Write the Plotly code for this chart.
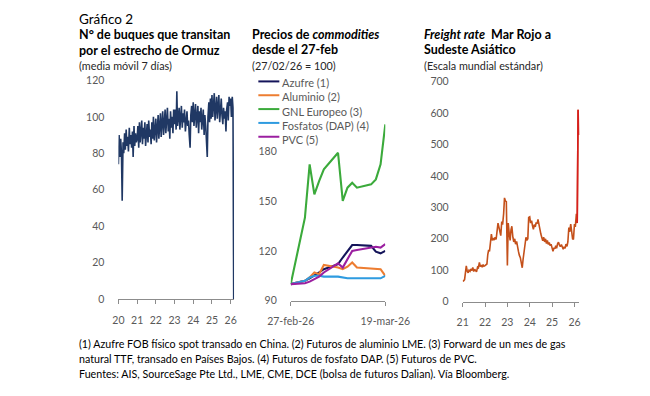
import pandas as pd
import plotly.graph_objects as go

# figure fits inside the page's 8px body margin; the photographed picture maps page
# coordinates as  pic_x = SX*page_x + BX,  pic_y = SY*page_y + BY  (measured)
OX, OY = 8, 8
W, H = 650 - 2 * OX, 396 - 2 * OY
SX, BX = 0.923, 24.5
SY, BY = 0.9625, 7.0
FONT = "Lato"

# ---------------- data ----------------
# Panel 1: ships through Hormuz (7-day MA), semi-monthly readings 2020-01-01 .. 2026-03-01
ships = [
    74, 90, 78, 88, 80, 54, 86, 80, 91, 82, 93, 84, 89, 81, 94, 85, 90, 83, 92, 78, 95, 84, 91, 86,
    88, 95, 83, 97, 86, 92, 98, 85, 94, 88, 97, 84, 91, 96, 86, 98, 89, 93, 85, 97, 88, 100, 87, 95,
    99, 86, 94, 101, 88, 97, 102, 89, 95, 103, 90, 98, 104, 91, 97, 105, 92, 99, 88, 103, 94, 100, 91, 104,
    96, 104, 93, 114, 95, 101, 105, 93, 100, 106, 94, 102, 97, 104, 92, 99, 103, 95, 98, 90, 83, 101, 106, 97,
    108, 95, 102, 107, 94, 100, 106, 91, 103, 97, 105, 93, 99, 104, 90, 101, 95, 88, 78, 100, 108, 97, 110, 99,
    112, 100, 106, 113, 98, 108, 111, 99, 104, 112, 97, 107, 110, 101, 96, 105, 99, 103, 92, 104, 108, 98, 111, 106,
    110, 100, 111, 105, 0,
]
ships_start = "2020-01-01"

# Panel 2: commodity prices indexed 27/02/26 = 100
cmd_dates = ["2026-02-27", "2026-03-02", "2026-03-03", "2026-03-04", "2026-03-05", "2026-03-06",
             "2026-03-09", "2026-03-10", "2026-03-11", "2026-03-12", "2026-03-13",
             "2026-03-16", "2026-03-17", "2026-03-18", "2026-03-19"]
azufre    = [100, 102, 103.5, 105, 107, 109, 112, 116, 119.5, 123.5, 123.5, 123, 119.5, 118.5, 120]
aluminio  = [100, 102, 104, 107, 106, 111.5, 110, 109, 110.5, 113, 110, 109.5, 109, 109, 105]
gnl       = [100, 140, 172, 154, 162, 169, 179, 150, 158, 161, 158, 160, 163, 172, 196]
fosfatos  = [100, 102, 104, 105, 105, 104.5, 104.5, 104, 103.5, 103.5, 103.5, 103.5, 103.5, 103.5, 105]
pvc       = [100, 100.5, 101.5, 103, 104.5, 107, 112.5, 110, 115, 120, 120.5, 122, 122.5, 122, 124]
cmd_names = ["Azufre (1)", "Aluminio (2)", "GNL Europeo (3)", "Fosfatos (DAP) (4)", "PVC (5)"]
cmd_series = [azufre, aluminio, gnl, fosfatos, pvc]
cmd_ticks = ["2026-02-27", "2026-03-19"]
cmd_ticktext = ["27-feb-26", "19-mar-26"]

# Panel 3: freight rate Red Sea -> SE Asia (Worldscale), semi-monthly 2021-01-01 .. 2026-03-15
freight = [
    68, 66, 70, 95, 114, 98, 92, 100, 97, 104, 99, 109, 96, 103, 100, 95, 110, 108, 125, 112, 117, 110, 118, 113,
    115, 118, 120, 150, 165, 160, 190, 215, 195, 202, 196, 205, 198, 215, 250, 238, 222, 210, 255, 245, 280, 330, 320, 318,
    115, 250, 215, 195, 228, 240, 205, 190, 200, 183, 192, 170, 160, 148, 140, 125, 108, 135, 160, 190, 205, 195, 200, 268,
    270, 250, 258, 242, 230, 245, 238, 252, 248, 262, 240, 225, 215, 205, 194, 205, 190, 200, 185, 195, 182, 188, 178, 183,
    165, 160, 172, 168, 178, 170, 185, 189, 180, 175, 182, 172, 167, 175, 170, 183, 176, 190, 236, 222, 247, 225, 200, 198,
    247, 238, 279, 250, 610, 530,
]
freight_start = "2021-01-01"
freight_recent_n = 3   # last readings drawn in red

colors = ["#14145A", "#ED7D31", "#3BAA3B", "#2E9BE0", "#9B1FA0"]
ship_color = "#203864"
freight_color = "#C4501A"
freight_recent_color = "#D81E1E"
tick_color = "#595959"
axis_color = "#8C8C8C"


def page_x(s):
    return (s - BX) / SX


def page_y(s):
    return (s - BY) / SY


def px_x(s):
    return (page_x(s) - OX) / W


def px_y(s):
    return 1 - (page_y(s) - OY) / H


fig = go.Figure()

ship_dates = pd.date_range(ships_start, periods=len(ships), freq="SMS")
fig.add_trace(go.Scatter(x=ship_dates, y=ships, mode="lines",
                         line=dict(color=ship_color, width=1.6), xaxis="x", yaxis="y", showlegend=False))

for name, vals, c in zip(cmd_names, cmd_series, colors):
    fig.add_trace(go.Scatter(x=cmd_dates, y=vals, name=name, mode="lines",
                             line=dict(color=c, width=2.1), xaxis="x2", yaxis="y2", showlegend=False))

fr_dates = pd.date_range(freight_start, periods=len(freight), freq="SMS")
fig.add_trace(go.Scatter(x=fr_dates, y=freight, mode="lines",
                         line=dict(color=freight_color, width=1.6), xaxis="x3", yaxis="y3", showlegend=False))
fig.add_trace(go.Scatter(x=fr_dates[-freight_recent_n:], y=freight[-freight_recent_n:], mode="lines",
                         line=dict(color=freight_recent_color, width=1.6), xaxis="x3", yaxis="y3",
                         showlegend=False))

tickfont = dict(family=FONT, size=10.5, color=tick_color)

xbase = dict(showgrid=False, zeroline=False, showline=True, linecolor=axis_color, linewidth=1,
             ticks="outside", ticklen=4, tickcolor=axis_color, tickfont=tickfont, ticklabelstandoff=7)
ybase = dict(showgrid=False, zeroline=False, showline=False, ticks="", tickfont=tickfont, ticklabelstandoff=13)

fig.update_layout(
    width=W, height=H, margin=dict(l=0, r=0, t=0, b=0),
    paper_bgcolor="white", plot_bgcolor="white", showlegend=False,
    xaxis=dict(xbase, domain=[px_x(118.3), px_x(234)], anchor="y", type="date",
               range=["2020-01-01", "2026-03-08"], tickformat="%y", dtick="M12", tick0="2020-01-01"),
    yaxis=dict(ybase, domain=[px_y(298), px_y(80.7)], anchor="x", range=[0, 120], dtick=20),
    xaxis2=dict(xbase, domain=[px_x(290.7), px_x(385.3)], anchor="y2", type="date",
                range=["2026-02-27", "2026-03-19"], tickvals=cmd_ticks, ticktext=cmd_ticktext),
    yaxis2=dict(ybase, domain=[px_y(299.7), px_y(117.9)], anchor="x2", range=[90, 200],
                tickvals=[90, 120, 150, 180]),
    xaxis3=dict(xbase, domain=[px_x(462.7), px_x(579.3)], anchor="y3", type="date",
                range=["2021-01-01", "2026-03-20"], tickformat="%y", dtick="M12", tick0="2021-01-01"),
    yaxis3=dict(ybase, domain=[px_y(300.7), px_y(81.7)], anchor="x3", range=[0, 700], dtick=100),
)

annotations = []
shapes = []


def block(lines, x, first_base, first_size, base_size=11, color="#000000"):
    """multi-line text block; line pitch = 1.3*base_size (page px)."""
    top = page_y(first_base) - 0.987 * first_size - 1
    annotations.append(dict(text="<br>".join(lines), x=px_x(x - 1), y=1 - (top - OY) / H,
                            xref="paper", yref="paper", xanchor="left", yanchor="top",
                            showarrow=False, align="left",
                            font=dict(family=FONT, size=base_size, color=color)))


def sp(text, size, color=None):
    style = "font-size:%spx" % size
    if color:
        style += ";color:%s" % color
    return '<span style="%s">%s</span>' % (style, text)


sub_c = "#262626"
TB = 11.8      # block base size -> line pitch 1.3*TB
TS = 12.5      # bold title size
block([sp("Gráfico 2", 13.5),
       sp("<b>N° de buques que transitan</b>", TS),
       sp("<b>por el estrecho de Ormuz</b>", TS),
       sp("(media móvil 7 días)", 10.8, sub_c)], 77.5, 38.2 - 1.3 * TB * SY, 13.5, base_size=TB)

block([sp("<b>Precios de <i>commodities</i></b>", TS),
       sp("<b>desde el 27-feb</b>", TS),
       sp("(27/02/26 = 100)", 10.8, sub_c)], 251, 38.2, TS, base_size=TB)

block([sp("<b><i>Freight rate</i>  Mar Rojo a</b>", TS),
       sp("<b>Sudeste Asiático</b>", TS),
       sp("(Escala mundial estándar)", 10.8, sub_c)], 422.7, 38.2, TS, base_size=TB)

# legend of panel 2 (swatch + label per series)
for i, c in enumerate(colors):
    cy = 81.7 + i * 13.75
    shapes.append(dict(type="line", xref="paper", yref="paper", x0=px_x(258.3), x1=px_x(279.3),
                       y0=px_y(cy), y1=px_y(cy), line=dict(color=c, width=2)))
block(cmd_names, 280.5, 81.7 + 3.8, 11, base_size=11, color=tick_color)

foot = [
    "(1) Azufre FOB físico spot transado en China. (2) Futuros de aluminio LME. (3) Forward de un mes de gas",
    "natural TTF, transado en Países Bajos. (4) Futuros de fosfato DAP. (5) Futuros de PVC.",
    "Fuentes: AIS, SourceSage Pte Ltd., LME, CME, DCE (bolsa de futuros Dalian). Vía Bloomberg.",
]
for i, t in enumerate(foot):
    base = page_y(347.3 + 15 * i)
    bottom = base + 0.213 * 10.7 + 1
    annotations.append(dict(text=t, x=px_x(76.5), y=1 - (bottom - OY) / H, xref="paper", yref="paper",
                            xanchor="left", yanchor="bottom", showarrow=False, align="left",
                            font=dict(family=FONT, size=10.7, color="#000000")))

fig.update_layout(annotations=annotations, shapes=shapes)
fig.write_html("out.html")
